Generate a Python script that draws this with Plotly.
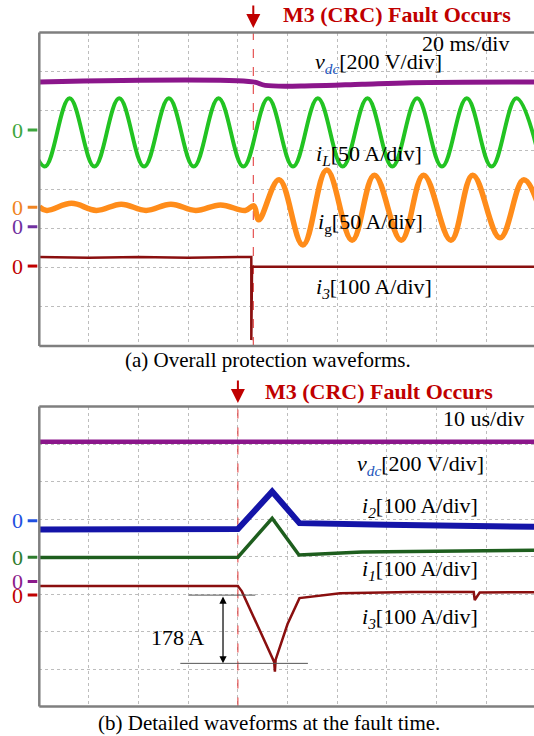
import plotly.graph_objects as go

W, H = 534, 736

# ---------------- data (division units: x = time div, y = vertical div from bottom) ------------
# Panel (a) 20 ms/div
A_VDC_T = [0.0, 4.30, 4.55, 5.50, 6.50, 7.50, 10.0]
A_VDC_V = [6.74, 6.74, 6.65, 6.64, 6.68, 6.72, 6.74]

A_IL_T = [-0.39, 0.11, 0.61, 1.11, 1.61, 2.11, 2.61, 3.11, 3.61, 4.11, 4.61,
          5.11, 5.61, 6.11, 6.61, 7.11, 7.61, 8.11, 8.61, 9.11, 9.61, 10.11]
A_IL_V = [6.32, 4.58, 6.32, 4.58, 6.32, 4.58, 6.32, 4.58, 6.32, 4.58, 6.32,
          4.58, 6.32, 4.58, 6.32, 4.58, 6.32, 4.58, 6.32, 4.58, 6.32, 4.58]

A_IG_T = [0.0, 0.15, 0.65, 1.15, 1.65, 2.15, 2.65, 3.15, 3.65, 4.15, 4.32, 4.42,
          4.83, 5.31, 5.79, 6.30, 6.75, 7.29, 7.74, 8.29, 8.73, 9.28, 9.76, 10.25]
A_IG_V = [3.55, 3.46, 3.64, 3.46, 3.62, 3.46, 3.62, 3.46, 3.60, 3.46, 3.58, 3.22,
          4.24, 2.58, 4.49, 2.70, 4.36, 2.70, 4.36, 2.70, 4.36, 2.76, 4.24, 2.70]

A_I3_T = [0.0, 1.0, 2.0, 3.0, 4.0, 4.27, 4.27, 4.285, 10.0]
A_I3_V = [2.27, 2.25, 2.27, 2.25, 2.27, 2.27, 0.15, 2.02, 2.02]

A_FAULT = 4.31
A_ZERO_LEVELS = [5.51, 3.54, 3.04, 2.04]
A_ZERO_COLORS = ["#3DA63D", "#F08422", "#7030A0", "#C00000"]

# Panel (b) 10 us/div
B_VDC_T = [0.0, 10.0]
B_VDC_V = [7.06, 7.06]

B_I2_T = [0.0, 2.0, 4.0, 4.69, 5.24, 7.0, 10.0]
B_I2_V = [4.72, 4.73, 4.73, 5.73, 4.89, 4.85, 4.79]

B_I1_T = [0.0, 2.0, 4.0, 4.69, 5.23, 6.5, 10.0]
B_I1_V = [3.97, 3.98, 3.98, 5.02, 4.04, 4.12, 4.17]

B_I3_T = [0.0, 2.0, 4.0, 4.08, 4.73, 4.745, 4.76, 5.0, 5.24, 6.06, 7.5, 8.75, 8.77, 8.87, 10.0]
B_I3_V = [3.21, 3.21, 3.21, 3.07, 1.19, 0.93, 1.25, 2.20, 2.89, 3.02, 3.05, 3.05, 2.84, 3.04, 3.05]

B_FAULT = 4.0
B_ZERO_LEVELS = [4.95, 3.98, 3.33, 2.97]
B_ZERO_COLORS = ["#1F4FE0", "#2E7D2E", "#8B1A8B", "#C00000"]

B_MEAS_TOP = 2.97
B_MEAS_BOT = 1.15
B_MEAS_LABEL = "178 A"

# ---------------- layout geometry ----------------
LEFT_PX = 39.3
DIV_PX = 49.65
XMAX = (W - LEFT_PX) / DIV_PX
A_TOP, A_BOT = 32.5, 346.0
B_TOP, B_BOT = 406.5, 706.5


def px(x):
    return x / W


def py(y):
    return 1 - y / H


FONT = "Liberation Serif, Times New Roman, serif"
C_VDC = "#8B168B"
C_IL = "#22C322"
C_IG = "#FF8C1A"
C_I3 = "#8A0F0F"
C_I2 = "#1414A8"
C_I1 = "#1E5E1E"
C_RED = "#C00000"

fig = go.Figure()


def add(t, v, color, width, xa, ya, shape="spline", smoothing=1.0):
    fig.add_trace(go.Scatter(x=t, y=v, mode="lines", xaxis=xa, yaxis=ya,
                             line=dict(color=color, width=width, shape=shape, smoothing=smoothing),
                             hoverinfo="skip", showlegend=False))


# fault dashed lines first (below traces)
for f, xa, ya in [(A_FAULT, "x", "y"), (B_FAULT, "x2", "y2")]:
    fig.add_trace(go.Scatter(x=[f, f], y=[0, 8], mode="lines", xaxis=xa, yaxis=ya,
                             line=dict(color="#E03030", width=1, dash="dash"),
                             hoverinfo="skip", showlegend=False))

add(A_VDC_T, A_VDC_V, C_VDC, 5, "x", "y")
add(A_IL_T, A_IL_V, C_IL, 4, "x", "y", smoothing=1.1)
add(A_IG_T, A_IG_V, C_IG, 5.5, "x", "y", smoothing=1.1)
add(A_I3_T, A_I3_V, C_I3, 2.5, "x", "y", shape="linear")

add(B_VDC_T, B_VDC_V, C_VDC, 4.5, "x2", "y2", shape="linear")
add(B_I2_T, B_I2_V, C_I2, 6, "x2", "y2", shape="linear")
add(B_I1_T, B_I1_V, C_I1, 3.5, "x2", "y2", shape="linear")
add(B_I3_T, B_I3_V, C_I3, 2.5, "x2", "y2", shape="linear")

axis_common = dict(range=[0, XMAX], dtick=1, tick0=0, showgrid=True, griddash="dot",
                   gridcolor="#BDBDBD", gridwidth=1, zeroline=False, showticklabels=False,
                   ticks="", showline=False, fixedrange=True)
yaxis_common = dict(range=[0, 8], dtick=1, tick0=0, showgrid=True, griddash="dot",
                    gridcolor="#BDBDBD", gridwidth=1, zeroline=False, showticklabels=False,
                    ticks="", showline=False, fixedrange=True)

fig.update_layout(
    width=W, height=H, margin=dict(l=0, r=0, t=0, b=0),
    paper_bgcolor="white", plot_bgcolor="white", hovermode=False,
    xaxis=dict(domain=[px(LEFT_PX), 1], anchor="y", **axis_common),
    yaxis=dict(domain=[py(A_BOT), py(A_TOP)], anchor="x", **yaxis_common),
    xaxis2=dict(domain=[px(LEFT_PX), 1], anchor="y2", **axis_common),
    yaxis2=dict(domain=[py(B_BOT), py(B_TOP)], anchor="x2", **yaxis_common),
    font=dict(family=FONT, color="black", size=22),
)

shapes = []
# borders (left, top, bottom) – right border lies outside the picture
for top, bot in [(A_TOP, A_BOT), (B_TOP, B_BOT)]:
    for (x0, y0, x1, y1) in [(LEFT_PX, top, LEFT_PX, bot), (LEFT_PX, top, W + 5, top),
                             (LEFT_PX, bot, W + 5, bot)]:
        shapes.append(dict(type="line", xref="paper", yref="paper", x0=px(x0), x1=px(x1),
                           y0=py(y0), y1=py(y1), line=dict(color="#7F7F7F", width=2.5),
                           layer="above"))

annotations = []
# zero markers
for levels, colors, ya in [(A_ZERO_LEVELS, A_ZERO_COLORS, "y"), (B_ZERO_LEVELS, B_ZERO_COLORS, "y2")]:
    for lv, c in zip(levels, colors):
        shapes.append(dict(type="line", xref="paper", yref=ya, x0=px(27.7), x1=px(37.3),
                           y0=lv, y1=lv, line=dict(color=c, width=3)))
        annotations.append(dict(text="0", xref="paper", yref=ya, x=px(17.5), y=lv,
                                xanchor="center", yanchor="middle", showarrow=False,
                                font=dict(size=22, color=c, family=FONT)))

# 178 A measurement
shapes.append(dict(type="line", xref="x2", yref="y2", x0=3.01, x1=4.35, y0=B_MEAS_TOP, y1=B_MEAS_TOP,
                   line=dict(color="#555555", width=1)))
shapes.append(dict(type="line", xref="x2", yref="y2", x0=2.84, x1=5.41, y0=B_MEAS_BOT, y1=B_MEAS_BOT,
                   line=dict(color="#555555", width=1)))
annotations.append(dict(text="", xref="x2", yref="y2", x=3.70, y=B_MEAS_BOT, axref="x2", ayref="y2",
                        ax=3.70, ay=B_MEAS_TOP, showarrow=True, arrowhead=2, arrowside="end+start",
                        arrowsize=1.2, arrowwidth=1.2, arrowcolor="black"))


def txt(s, x, y, size=22, color="black", xanchor="center"):
    annotations.append(dict(text=s, xref="paper", yref="paper", x=px(x), y=py(y),
                            xanchor=xanchor, yanchor="middle", showarrow=False,
                            font=dict(size=size, color=color, family=FONT)))


DC = "<i>v</i><sub><i><span style='color:#2255BB'>dc</span></i></sub>[200 V/div]"

# panel (a) texts
txt("<b>M3 (CRC) Fault Occurs</b>", 397, 15, 22, C_RED)
txt("20 ms/div", 465, 43)
txt(DC, 378, 63)
txt("<i>i</i><sub><i>L</i></sub>[50 A/div]", 369, 155)
txt("<i>i</i><sub>g</sub>[50 A/div]", 370, 223)
txt("<i>i</i><sub><i>3</i></sub>[100 A/div]", 374, 288)
txt("(a) Overall protection waveforms.", 268, 360, 21)

# panel (b) texts
txt("<b>M3 (CRC) Fault Occurs</b>", 379, 391, 22, C_RED)
txt("10 us/div", 483, 419)
txt(DC, 420, 465)
txt("<i>i</i><sub><i>2</i></sub>[100 A/div]", 420, 507)
txt("<i>i</i><sub><i>1</i></sub>[100 A/div]", 420, 570)
txt("<i>i</i><sub><i>3</i></sub>[100 A/div]", 420, 618)
txt(B_MEAS_LABEL, 177, 637)
txt("(b) Detailed waveforms at the fault time.", 269, 723, 21)

# fault arrows
for f, xa, ytip in [(A_FAULT, "x", 28), (B_FAULT, "x2", 403)]:
    annotations.append(dict(text="", xref=xa, yref="paper", x=f, y=py(ytip), ax=0, ay=-24,
                            showarrow=True, arrowhead=2, arrowsize=1.4, arrowwidth=2,
                            arrowcolor=C_RED))

fig.update_layout(shapes=shapes, annotations=annotations)
fig.write_html("out.html", config={"displayModeBar": False, "staticPlot": True},
               post_script="document.body.style.margin='0px';document.body.style.overflow='hidden';")
